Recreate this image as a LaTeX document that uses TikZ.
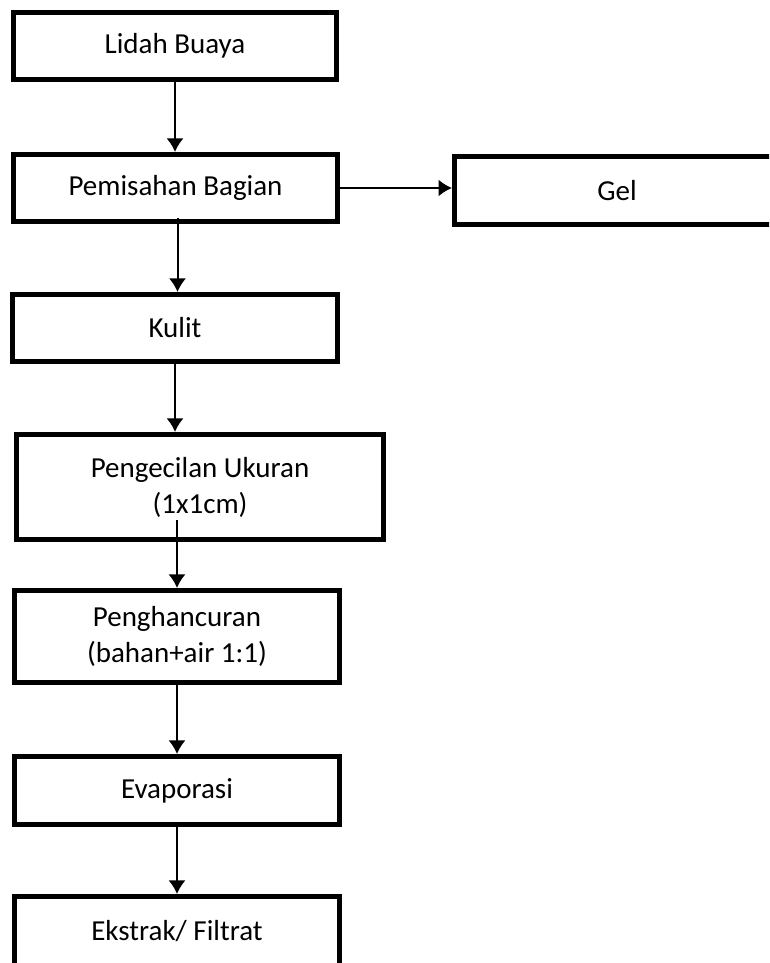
\documentclass[tikz,border=0pt]{standalone}
\usepackage{fontspec}
\setmainfont{Carlito}
\usepackage{tikz}
\usetikzlibrary{arrows.meta,calc}

\begin{document}
\begin{tikzpicture}[x=1cm,y=1cm,>=Latex,
		kotak/.style={draw,line width=0.1cm,minimum width=6.5cm,minimum height=1.34cm,
			inner sep=0pt,align=center,font=\fontsize{16.5}{20.5}\selectfont},
		alur/.style={line width=0.04cm,-{Latex[length=0.27cm,width=0.34cm]}}]
		\useasboundingbox (0,0) rectangle (15.38,19.26);
		\clip (0,0) rectangle (15.38,19.26);
		\fill[white] (0,0) rectangle (15.38,19.26);
		
		% Kotak proses utama
		\node[kotak,minimum width=6.46cm] (lidah) at (3.50,18.34) {Lidah Buaya};
		\node[kotak,minimum width=6.48cm] (pemisahan) at (3.51,15.50) {Pemisahan Bagian};
		\node[kotak,minimum height=1.36cm] (gel) at (12.34,15.45) {Gel};
		\node[kotak] (kulit) at (3.50,12.70) {Kulit};
		\node[kotak,minimum width=7.34cm,minimum height=2.10cm] (pengecilan) at (4.00,9.52)
		{Pengecilan Ukuran\\(1x1cm)};
		\node[kotak,minimum height=1.84cm] (penghancuran) at (3.54,6.53)
		{Penghancuran\\(bahan+air 1:1)};
		\node[kotak,minimum height=1.36cm] (evaporasi) at (3.54,3.45) {Evaporasi};
		\node[kotak,minimum height=1.46cm,text depth=0.1cm] (ekstrak) at (3.54,0.60) {Ekstrak/ Filtrat};
		
		% Panah alur
		\draw[alur] (lidah.south) -- (lidah.south |- pemisahan.north);
		\draw[alur] (pemisahan.east) -- (pemisahan.east -| gel.west);
		\draw[alur] ($(pemisahan.south)+(0.04,0.12)$) -- (kulit.north -| {$(pemisahan.south)+(0.04,0)$});
		\draw[alur] (kulit.south) -- (kulit.south |- pengecilan.north);
		\draw[alur] ($(penghancuran.north |- pengecilan.south)+(0,0.44)$) -- (penghancuran.north);
		\draw[alur] (penghancuran.south) -- (evaporasi.north);
		\draw[alur] (evaporasi.south) -- (ekstrak.north);
	\end{tikzpicture}
\end{document}
